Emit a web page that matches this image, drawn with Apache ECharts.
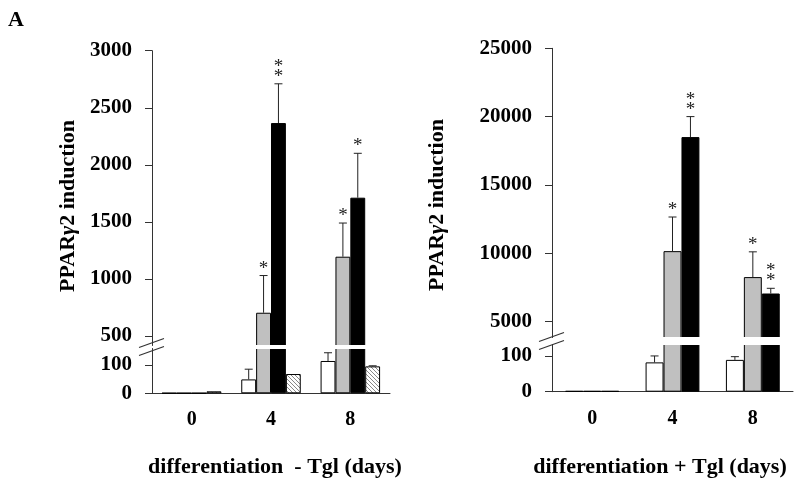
<!DOCTYPE html>
<html>
<head>
<meta charset="utf-8">
<script src="https://cdn.jsdelivr.net/npm/echarts@6/dist/echarts.min.js"></script>
<style>
html,body{margin:0;padding:0;background:#fff;}
#chart{width:800px;height:488px;}
</style>
</head>
<body>
<div id="chart"></div>
<script>
// ---------------- data ----------------
const categories = ['0', '4', '8'];

// differentiation - Tgl (left panel)
const minusWhite   = [1, 49, 114];
const minusGray    = [1, 704, 1195];
const minusBlack   = [1, 2366, 1712];
const minusHatched = [7, 68, 95];
const minusWhiteErr   = [null, 85, 143];
const minusGrayErr    = [null, 1030, 1490];
const minusBlackErr   = [null, 2710, 2101];
const minusHatchedErr = [null, null, 97];
const minusWhiteStars   = [0, 0, 0];
const minusGrayStars    = [0, 1, 1];
const minusBlackStars   = [0, 2, 1];
const minusHatchedStars = [0, 0, 0];

// differentiation + Tgl (right panel)
const plusWhite = [2, 82, 89];
const plusGray  = [2, 10150, 8250];
const plusBlack = [2, 18500, 7050];
const plusWhiteErr = [null, 100, 98];
const plusGrayErr  = [null, 12650, 10100];
const plusBlackErr = [null, 20000, 7430];
const plusWhiteStars = [0, 0, 0];
const plusGrayStars  = [0, 1, 1];
const plusBlackStars = [0, 2, 2];

// tick labels
const minusUpperTicks = [500, 1000, 1500, 2000, 2500, 3000];
const minusLowerTicks = [0, 100];
const plusUpperTicks  = [5000, 10000, 15000, 20000, 25000];
const plusLowerTicks  = [0, 100];

const minusTitle = 'differentiation  - Tgl (days)';
const plusTitle  = 'differentiation + Tgl (days)';

// ---------------- styles ----------------
const SERIF = "'Liberation Serif', 'Times New Roman', serif";

function hatchPattern() {
  const c = document.createElement('canvas');
  c.width = 4; c.height = 4;
  const g = c.getContext('2d');
  g.fillStyle = '#fff'; g.fillRect(0, 0, 4, 4);
  g.strokeStyle = '#888'; g.lineWidth = 1;
  g.beginPath();
  g.moveTo(-1, -1); g.lineTo(5, 5);
  g.moveTo(-3, 1); g.lineTo(3, 7);
  g.moveTo(1, -3); g.lineTo(7, 3);
  g.stroke();
  return { image: c, repeat: 'repeat' };
}

const fills = { white: '#ffffff', gray: '#c0c0c0', black: '#000000', hatched: hatchPattern() };

const panels = [
  {
    left: 152, width: 238,
    upperTop: 50.7, upperBottom: 345.5, lowerTop: 348.5, lowerBottom: 393.3,
    upperMin: 417, upperMax: 3000, lowerMax: 158, gap: 0.25,
    upperTicks: minusUpperTicks, lowerTicks: minusLowerTicks,
    series: [
      { kind: 'white', v: minusWhite, e: minusWhiteErr, s: minusWhiteStars },
      { kind: 'gray', v: minusGray, e: minusGrayErr, s: minusGrayStars },
      { kind: 'black', v: minusBlack, e: minusBlackErr, s: minusBlackStars },
      { kind: 'hatched', v: minusHatched, e: minusHatchedErr, s: minusHatchedStars }
    ]
  },
  {
    left: 552, width: 241,
    upperTop: 48.3, upperBottom: 337.5, lowerTop: 344.5, lowerBottom: 391.7,
    upperMin: 3829, upperMax: 25000, lowerMax: 132, gap: 0.33,
    upperTicks: plusUpperTicks, lowerTicks: plusLowerTicks,
    series: [
      { kind: 'white', v: plusWhite, e: plusWhiteErr, s: plusWhiteStars },
      { kind: 'gray', v: plusGray, e: plusGrayErr, s: plusGrayStars },
      { kind: 'black', v: plusBlack, e: plusBlackErr, s: plusBlackStars }
    ]
  }
];

const grid = [], xAxis = [], yAxis = [], series = [], graphic = [];

const axisLineStyle = { color: '#333', width: 1 };
const labelStyle = { color: '#000', fontFamily: SERIF, fontWeight: 'bold', fontSize: 21 };
const plain = v => String(v);

function errRenderer(n, gapFrac) {
  return function (params, api) {
    const cat = api.value(0), si = api.value(1), base = api.value(2), top = api.value(3), stars = api.value(4);
    const cw = api.size([1, 0])[0];
    const bw = cw * (1 - gapFrac) / n;
    const pTop = api.coord([cat, top]);
    const pBase = api.coord([cat, base]);
    const x = pTop[0] + (si - (n - 1) / 2) * bw;
    const children = [
      { type: 'line', shape: { x1: x, y1: pBase[1], x2: x, y2: pTop[1] }, style: { stroke: '#222', lineWidth: 1 } },
      { type: 'line', shape: { x1: x - 4, y1: pTop[1], x2: x + 4, y2: pTop[1] }, style: { stroke: '#222', lineWidth: 1 } }
    ];
    for (let k = 0; k < stars; k++) {
      children.push({
        type: 'text',
        style: { text: '*', x: x, y: pTop[1] - 7 - k * 10, align: 'center', verticalAlign: 'middle',
                 font: '19px ' + SERIF, fill: '#222' }
      });
    }
    return { type: 'group', children: children };
  };
}

panels.forEach((p, pi) => {
  const gU = grid.length, gL = gU + 1;
  grid.push({ left: p.left, top: p.upperTop, width: p.width, height: p.upperBottom - p.upperTop });
  grid.push({ left: p.left, top: p.lowerTop, width: p.width, height: p.lowerBottom - p.lowerTop });

  xAxis.push({ type: 'category', gridIndex: gU, data: categories, show: false });
  xAxis.push({
    type: 'category', gridIndex: gL, data: categories,
    axisLine: { lineStyle: axisLineStyle },
    axisTick: { length: 7, lineStyle: axisLineStyle },
    axisLabel: Object.assign({ margin: 17 }, labelStyle, { fontSize: 20 })
  });

  const yCommon = {
    type: 'value', splitLine: { show: false },
    axisLine: { show: true, lineStyle: axisLineStyle },
  };
  yAxis.push(Object.assign({}, yCommon, {
    gridIndex: gU, min: p.upperMin, max: p.upperMax,
    axisTick: { show: true, length: 7, lineStyle: axisLineStyle, customValues: p.upperTicks },
    axisLabel: Object.assign({ margin: 20, customValues: p.upperTicks, formatter: plain }, labelStyle)
  }));
  yAxis.push(Object.assign({}, yCommon, {
    gridIndex: gL, min: 0, max: p.lowerMax,
    axisTick: { show: true, length: 7, lineStyle: axisLineStyle, customValues: p.lowerTicks },
    axisLabel: Object.assign({ margin: 20, customValues: p.lowerTicks, formatter: plain }, labelStyle)
  }));

  const n = p.series.length;
  const errU = [], errL = [];
  p.series.forEach((s, si) => {
    const itemStyle = { color: fills[s.kind], borderColor: '#000', borderWidth: 1 };
    const common = { type: 'bar', barGap: '0%', barCategoryGap: (p.gap * 100) + '%', itemStyle, animation: false, silent: true };
    series.push(Object.assign({}, common, {
      xAxisIndex: gU, yAxisIndex: gU,
      data: s.v.map(v => (v > p.upperMin ? v : '-'))
    }));
    series.push(Object.assign({}, common, {
      xAxisIndex: gL, yAxisIndex: gL,
      data: s.v.slice()
    }));
    s.e.forEach((top, ci) => {
      if (top == null) return;
      const item = [ci, si, s.v[ci], top, s.s[ci]];
      if (top > p.lowerMax) errU.push(item); else errL.push(item);
    });
  });
  series.push({ type: 'custom', xAxisIndex: gU, yAxisIndex: gU, data: errU, renderItem: errRenderer(n, p.gap), z: 5, animation: false, silent: true });
  series.push({ type: 'custom', xAxisIndex: gL, yAxisIndex: gL, data: errL, renderItem: errRenderer(n, p.gap), z: 5, animation: false, silent: true });

  // white gap across the broken bars (hides the cut edges)
  graphic.push({
    type: 'rect', silent: true, z: 100,
    shape: { x: p.left + 1, y: p.upperBottom - 0.5, width: p.width, height: p.lowerTop - p.upperBottom + 1 },
    style: { fill: '#fff' }
  });
  // axis break marks
  const cy = (p.upperBottom + p.lowerTop) / 2;
  [-4, 4].forEach(off => {
    graphic.push({
      type: 'line', silent: true, z: 101,
      shape: { x1: p.left - 13, y1: cy + off + 4.5, x2: p.left + 12, y2: cy + off - 4.5 },
      style: { stroke: '#333', lineWidth: 1.2 }
    });
  });
});

// titles
graphic.push({ type: 'text', x: 8, y: 9, style: { text: 'A', font: 'bold 22px ' + SERIF, fill: '#000' } });
graphic.push({ type: 'text', x: 275, y: 467, style: { text: minusTitle, font: 'bold 22px ' + SERIF, fill: '#000', align: 'center', verticalAlign: 'middle' } });
graphic.push({ type: 'text', x: 660, y: 467, style: { text: plusTitle, font: 'bold 22px ' + SERIF, fill: '#000', align: 'center', verticalAlign: 'middle' } });
[[68, 206], [437, 205]].forEach(pos => {
  graphic.push({
    type: 'text', x: pos[0], y: pos[1], rotation: Math.PI / 2,
    style: {
      text: '{a|PPAR}{g|γ}{a|2 induction}', align: 'center', verticalAlign: 'middle',
      rich: {
        a: { fontFamily: SERIF, fontWeight: 'bold', fontSize: 22, fill: '#000' },
        g: { fontFamily: SERIF, fontWeight: 'bold', fontStyle: 'italic', fontSize: 22, fill: '#000' }
      }
    }
  });
});

const chart = echarts.init(document.getElementById('chart'), null, { renderer: 'canvas' });
chart.setOption({
  backgroundColor: '#fff',
  animation: false,
  grid, xAxis, yAxis, series, graphic
});
</script>
</body>
</html>
